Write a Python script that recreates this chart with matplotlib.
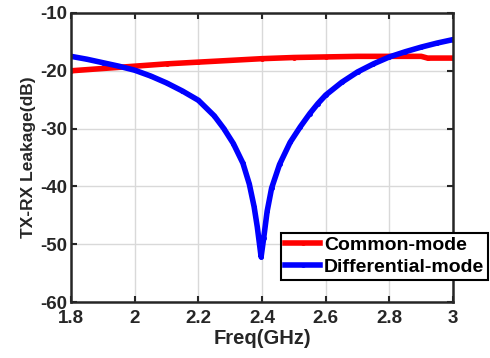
import matplotlib
matplotlib.use("Agg")
import matplotlib.pyplot as plt

freq_cm = [1.8, 1.9, 2.0, 2.1, 2.2, 2.3, 2.4, 2.5, 2.6, 2.7, 2.8, 2.9, 2.92, 3.0]
common_mode = [-20.0, -19.6, -19.2, -18.8, -18.5, -18.2, -17.9, -17.7, -17.6, -17.5, -17.5, -17.5, -17.8, -17.8]

freq_dm = [1.8, 1.85, 1.9, 1.95, 2.0, 2.05, 2.1, 2.15, 2.2, 2.25, 2.28, 2.31, 2.34, 2.36,
           2.375, 2.385, 2.392, 2.397, 2.405, 2.416, 2.43, 2.455, 2.488, 2.52, 2.55, 2.575,
           2.6, 2.65, 2.7, 2.75, 2.8, 2.85, 2.9, 2.95, 3.0]
differential_mode = [-17.5, -18.0, -18.6, -19.2, -19.9, -20.9, -22.1, -23.5, -25.1, -27.8, -30.0,
                     -32.6, -36.0, -39.6, -43.5, -47.0, -50.0, -52.2, -49.0, -44.3, -40.3, -36.2,
                     -32.4, -29.7, -27.4, -25.7, -24.2, -22.0, -20.2, -18.8, -17.6, -16.7, -15.9,
                     -15.2, -14.6]

xticks = [1.8, 2.0, 2.2, 2.4, 2.6, 2.8, 3.0]
xticklabels = ["1.8", "2", "2.2", "2.4", "2.6", "2.8", "3"]
yticks = [-60, -50, -40, -30, -20, -10]

plt.rcParams['font.family'] = ['Liberation Sans', 'DejaVu Sans']
plt.rcParams['font.weight'] = 'bold'
plt.rcParams['axes.unicode_minus'] = False

dark = '#262626'
fig = plt.figure(figsize=(4.9, 3.58), dpi=100)
ax = fig.add_axes([0.145, 0.1564, 0.7796, 0.8073])

ax.plot(freq_cm, common_mode, color='#ff0000', lw=4, marker='.', ms=5, label='Common-mode')
ax.plot(freq_dm, differential_mode, color='#0000ff', lw=4, marker='.', ms=5, label='Differential-mode')

ax.set_xlim(1.8, 3.0)
ax.set_ylim(-60, -10)
ax.set_xticks(xticks)
ax.set_xticklabels(xticklabels)
ax.set_yticks(yticks)
ax.grid(True, color='#d9d9d9', lw=1)
ax.set_axisbelow(True)
ax.tick_params(direction='in', top=True, right=True, labelsize=13.5, width=1.5, length=4,
               colors=dark, labelcolor=dark)
ax.tick_params(axis='x', pad=6)
ax.tick_params(axis='y', pad=3)
for s in ax.spines.values():
    s.set_linewidth(1.8)
    s.set_color(dark)
ax.set_xlabel('Freq(GHz)', fontsize=14.5, fontweight='bold', color=dark, labelpad=1)
ax.set_ylabel('TX-RX Leakage(dB)', fontsize=12.5, fontweight='bold', color=dark, labelpad=3)

leg = ax.legend(loc='upper left', bbox_to_anchor=(0.55, 0.24), fontsize=14, frameon=True,
                fancybox=False, edgecolor='black', framealpha=1, borderpad=0.2,
                handlelength=1.8, handletextpad=0.2, labelspacing=0.2, borderaxespad=0)
leg.get_frame().set_linewidth(1.5)
for t in leg.get_texts():
    t.set_fontweight('bold')

fig.savefig('out.png', dpi=100)
